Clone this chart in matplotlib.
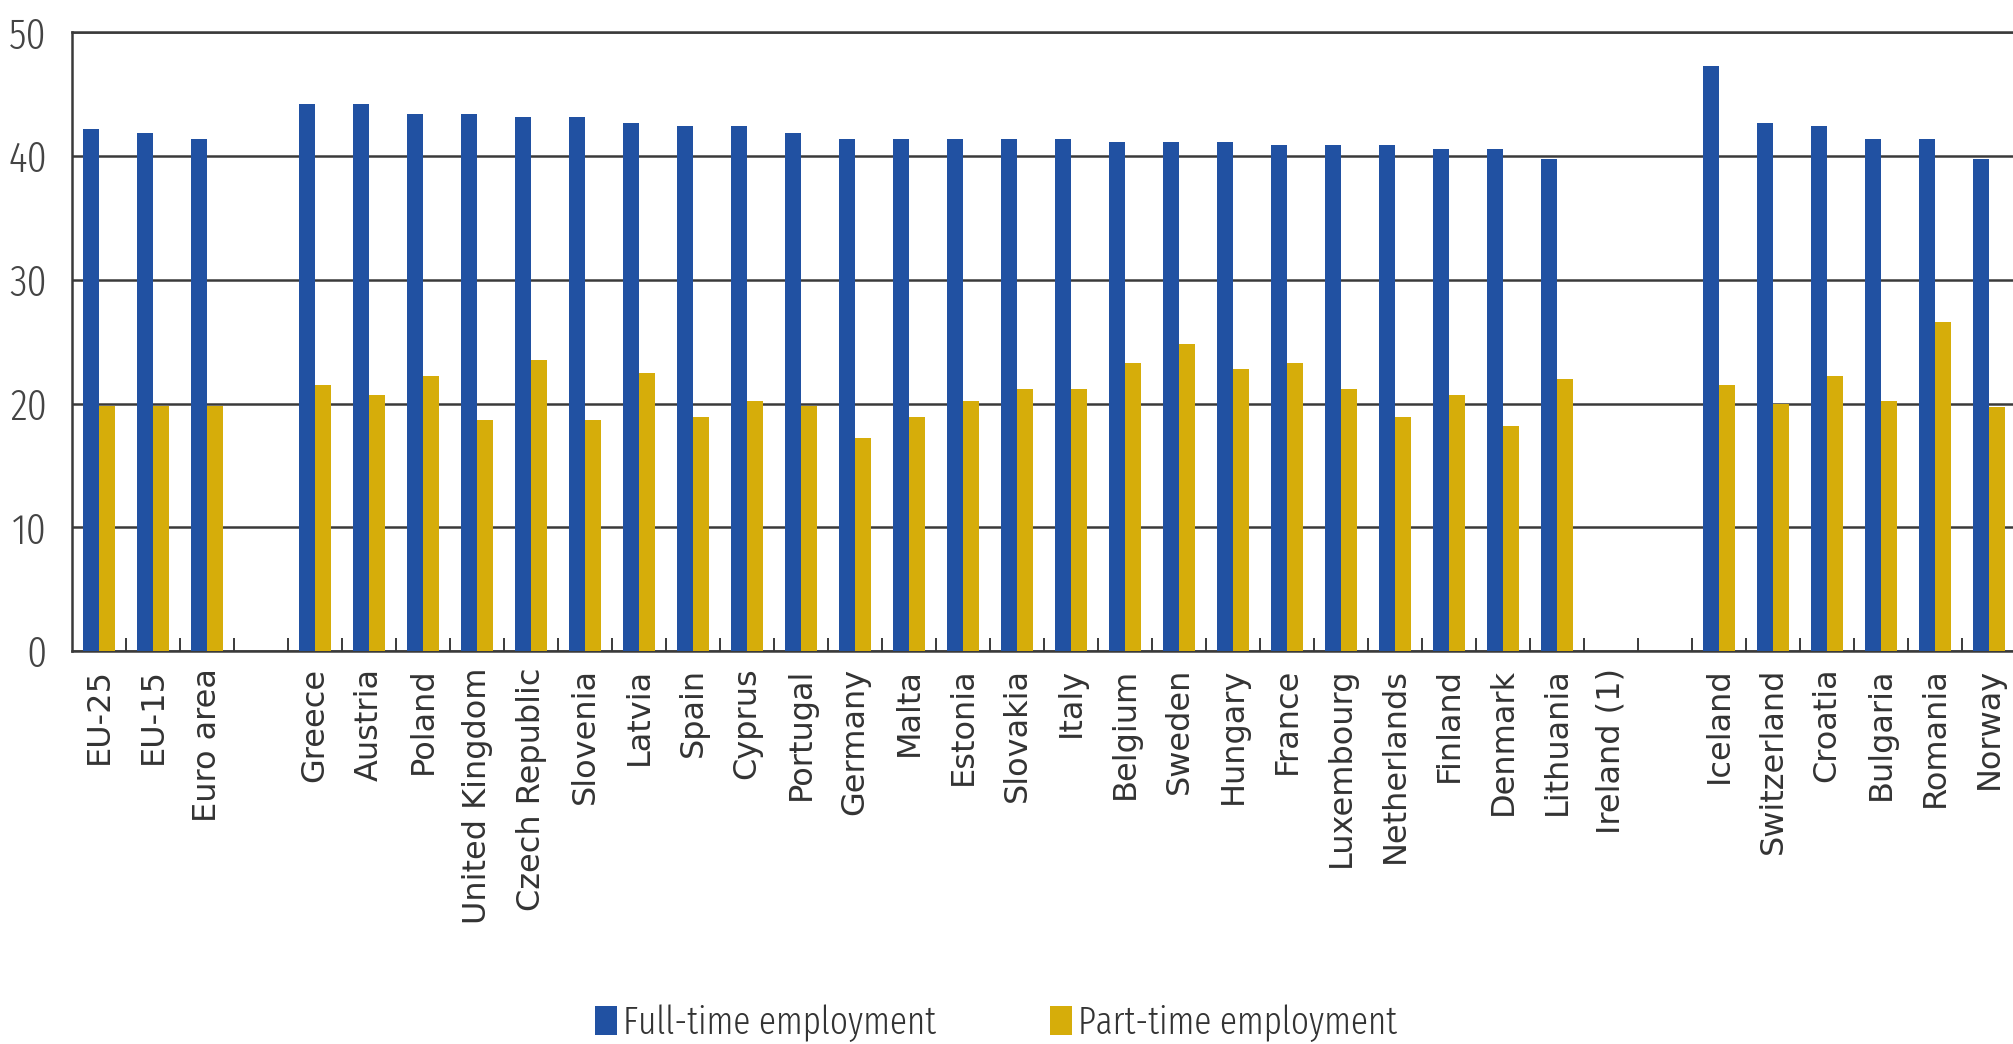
import numpy as np
from matplotlib import pyplot as plt

FULL_COLOR = "#2151a2"
PART_COLOR = "#d6ad0a"
LINE_COLOR = "#3a3a3a"
TEXT_COLOR = "#333333"
NARROW = ["Fira Sans Extra Condensed", "Fira Sans Condensed", "DejaVu Sans"]

# Usual weekly hours, by group of countries
aggregates = ["EU-25", "EU-15", "Euro area"]
full_aggregates = [42.2, 41.9, 41.4]
part_aggregates = [19.8, 19.8, 19.8]

member_states = [
    "Greece", "Austria", "Poland", "United Kingdom", "Czech Republic",
    "Slovenia", "Latvia", "Spain", "Cyprus", "Portugal", "Germany", "Malta",
    "Estonia", "Slovakia", "Italy", "Belgium", "Sweden", "Hungary", "France",
    "Luxembourg", "Netherlands", "Finland", "Denmark", "Lithuania", "Ireland (1)",
]
full_member_states = [
    44.2, 44.2, 43.4, 43.4, 43.2, 43.2, 42.7, 42.4, 42.4, 41.9, 41.4, 41.4,
    41.4, 41.4, 41.4, 41.1, 41.1, 41.1, 40.9, 40.9, 40.9, 40.6, 40.6, 39.8, np.nan,
]
part_member_states = [
    21.5, 20.7, 22.2, 18.7, 23.5, 18.7, 22.5, 18.9, 20.2, 19.8, 17.2, 18.9,
    20.2, 21.2, 21.2, 23.3, 24.8, 22.8, 23.3, 21.2, 18.9, 20.7, 18.2, 22.0, np.nan,
]

others = ["Iceland", "Switzerland", "Croatia", "Bulgaria", "Romania", "Norway"]
full_others = [47.3, 42.7, 42.4, 41.4, 41.4, 39.8]
part_others = [21.5, 20.0, 22.2, 20.2, 26.6, 19.7]

groups = [
    (aggregates, full_aggregates, part_aggregates),
    (member_states, full_member_states, part_member_states),
    (others, full_others, part_others),
]

# one empty slot between groups
labels, positions, full, part = [], [], [], []
slot = 0
for names, full_values, part_values in groups:
    for name, f, p in zip(names, full_values, part_values):
        labels.append(name)
        positions.append(slot)
        full.append(f)
        part.append(p)
        slot += 1
    slot += 1
n_slots = slot - 1
positions = np.array(positions)

fig = plt.figure(figsize=(20.13, 10.44), dpi=100)
# the plot runs slightly past the right edge of the figure
ax = fig.add_axes([0.0358, 0.3764, 0.9657, 0.5926])

width = 0.3
ax.bar(positions - 0.15, full, width, color=FULL_COLOR, label="Full-time employment", zorder=3)
ax.bar(positions + 0.15, part, width, color=PART_COLOR, label="Part-time employment", zorder=3)

ax.set_xlim(-0.5, n_slots - 0.5)
ax.set_ylim(0, 50)
ax.set_yticks([0, 10, 20, 30, 40, 50])
ax.yaxis.grid(True, color=LINE_COLOR, linewidth=1.8)
ax.set_axisbelow(True)

for side in ["left", "bottom", "top"]:
    ax.spines[side].set_color(LINE_COLOR)
    ax.spines[side].set_linewidth(1.8)
ax.spines["right"].set_visible(False)

ax.set_xticks(positions)
ax.set_xticklabels(labels, rotation=90, va="top", ha="center",
                   fontsize=23, color=TEXT_COLOR, family="DejaVu Sans")
ax.set_xticks(np.arange(0.5, n_slots, 1.0), minor=True)
ax.tick_params(axis="x", which="major", length=0, pad=12)
ax.tick_params(axis="x", which="minor", direction="in", length=9.5,
               width=1.4, color=LINE_COLOR)
ax.tick_params(axis="y", length=0, pad=18, labelsize=31, labelcolor="#444444")
for label in ax.get_yticklabels():
    label.set_family(NARROW)
    label.set_weight(300)

fig.legend(
    loc="center",
    bbox_to_anchor=(0.4948, 0.02),
    ncol=2,
    frameon=False,
    prop={"family": NARROW, "size": 27.5, "weight": 300},
    labelcolor=TEXT_COLOR,
    handlelength=0.57,
    handleheight=0.8,
    handletextpad=0.16,
    columnspacing=3.0,
    borderpad=0,
)

plt.savefig("out.png", dpi=100)
plt.close()
